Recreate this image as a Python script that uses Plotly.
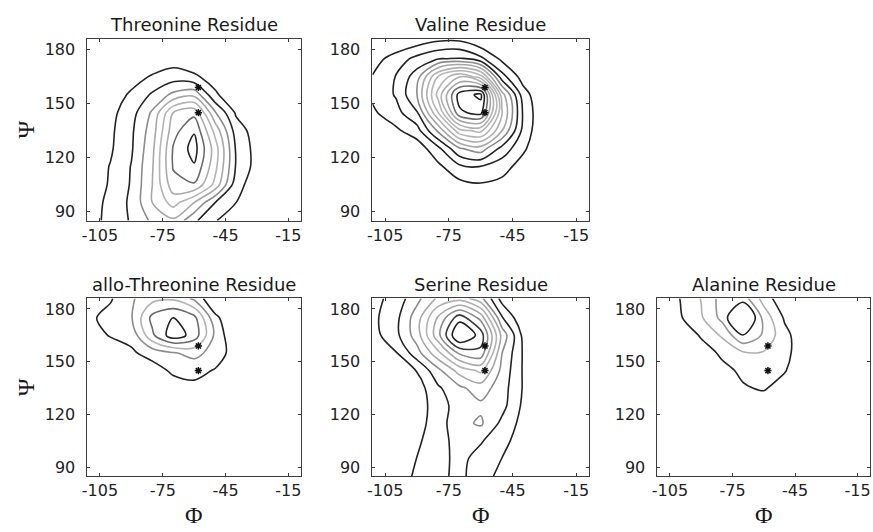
import plotly.graph_objects as go

# Grid of backbone dihedral angles (degrees)
phi_grid = [-111, -100, -90, -80, -70, -60, -50, -40, -30, -20, -9]
psi_grid = [85, 95, 105, 115, 125, 135, 145, 155, 165, 175, 186]

# Population density expressed in contour-level units, one row per psi value
threonine_z = [
    [0.4, 1.4, 2.1, 3.2, 3.8, 2.2, 1.05, 0.5, 0.1, 0, 0],
    [0.4, 1.3, 2.2, 4.0, 5.4, 4.0, 2.0, 1.0, 0.3, 0, 0],
    [0.4, 1.1, 2.1, 4.0, 6.6, 6.9, 4.7, 1.4, 0.4, 0.1, 0],
    [0.35, 1.05, 2.05, 3.9, 7.1, 7.9, 5.3, 1.9, 0.6, 0.2, 0],
    [0.3, 0.87, 1.88, 3.75, 7.1, 8.4, 5.5, 1.87, 0.6, 0.2, 0],
    [0.2, 0.8, 1.82, 3.5, 6.6, 7.9, 4.67, 1.53, 0.5, 0.1, 0],
    [0.1, 0.7, 1.6, 3.15, 6.0, 6.7, 3.1, 0.85, 0.3, 0, 0],
    [0.1, 0.5, 1.15, 2.15, 3.25, 3.7, 1.15, 0.3, 0, 0, 0],
    [0, 0.3, 0.6, 1.1, 1.5, 1.15, 0.6, 0.2, 0, 0, 0],
    [0, 0, 0.1, 0.3, 0.5, 0.35, 0.1, 0, 0, 0, 0],
    [0, 0, 0, 0, 0, 0, 0, 0, 0, 0, 0],
]

valine_z = [
    [0, 0, 0, 0, 0, 0, 0, 0, 0, 0, 0],
    [0, 0, 0, 0, 0, 0, 0, 0, 0, 0, 0],
    [0, 0, 0, 0, 0.69, 0.9, 0.7, 0, 0, 0, 0],
    [0, 0, 0, 0.77, 1.79, 2.02, 1.42, 0.55, 0, 0, 0],
    [0, 0, 0.4, 1.74, 3.88, 4.53, 2.65, 1.19, 0, 0, 0],
    [0, 0.8, 1.58, 4.19, 7.68, 8.26, 5.04, 1.7, 0, 0, 0],
    [0.82, 1.62, 2.91, 7.0, 11.8, 12.35, 6.12, 1.86, 0, 0, 0],
    [1.19, 2.09, 4.0, 8.4, 12.45, 13.25, 5.47, 1.47, 0, 0, 0],
    [1.05, 2.04, 3.53, 7.09, 8.93, 7.46, 2.4, 0.53, 0, 0, 0],
    [0.56, 1.43, 2.31, 2.94, 3.11, 2.25, 0.74, 0, 0, 0, 0],
    [0, 0, 0.32, 0.74, 0.75, 0, 0, 0, 0, 0, 0],
]

allo_threonine_z = [
    [0, 0, 0, 0, 0, 0, 0, 0, 0, 0, 0],
    [0, 0, 0, 0, 0, 0, 0, 0, 0, 0, 0],
    [0, 0, 0, 0, 0, 0, 0, 0, 0, 0, 0],
    [0, 0, 0, 0, 0, 0, 0, 0, 0, 0, 0],
    [0, 0, 0, 0, 0, 0, 0, 0, 0, 0, 0],
    [0, 0, 0, 0, 0.54, 0.7, 0.15, 0, 0, 0, 0],
    [0, 0, 0, 0.55, 1.18, 1.36, 0.92, 0.2, 0, 0, 0],
    [0, 0.35, 0.85, 1.39, 1.91, 2.31, 1.61, 0.45, 0, 0, 0],
    [0.5, 1.07, 1.3, 3.8, 5.6, 4.6, 1.78, 0, 0, 0, 0],
    [0.77, 1.34, 1.92, 4.3, 5.05, 4.3, 1.26, 0, 0, 0, 0],
    [0.31, 0.89, 1.87, 2.66, 2.83, 1.78, 0, 0, 0, 0, 0],
]

serine_z = [
    [0, 0.55, 1.15, 1.75, 2.25, 1.45, 0.7, 0.1, 0, 0, 0],
    [0, 0.35, 1.02, 1.65, 2.3, 1.6, 0.99, 0.3, 0, 0, 0],
    [0, 0, 0.83, 1.59, 2.4, 2.1, 1.32, 0.5, 0, 0, 0],
    [0, 0, 0.6, 1.52, 2.7, 3.15, 1.75, 0.65, 0, 0, 0],
    [0, 0, 0.5, 1.5, 2.5, 2.8, 2.35, 0.8, 0, 0, 0],
    [0, 0, 0.48, 1.85, 2.78, 3.5, 2.47, 0.92, 0, 0, 0],
    [0, 0, 1.06, 2.73, 4.4, 5.2, 2.72, 0.9, 0, 0, 0],
    [0, 0.92, 2.59, 4.75, 7.2, 7.7, 3.02, 0.9, 0, 0, 0],
    [0.6, 1.71, 3.5, 6.7, 10.2, 8.6, 3.7, 0.74, 0, 0, 0],
    [0.74, 1.7, 3.55, 6.15, 8.6, 6.67, 2.1, 0.17, 0, 0, 0],
    [0.63, 1.41, 2.7, 4.2, 4.6, 3.3, 0.6, 0, 0, 0, 0],
]

alanine_z = [
    [0, 0, 0, 0, 0, 0, 0, 0, 0, 0, 0],
    [0, 0, 0, 0, 0, 0, 0, 0, 0, 0, 0],
    [0, 0, 0, 0, 0, 0, 0, 0, 0, 0, 0],
    [0, 0, 0, 0, 0, 0, 0, 0, 0, 0, 0],
    [0, 0, 0, 0, 0.2, 0.4, 0.1, 0, 0, 0, 0],
    [0, 0, 0, 0.2, 0.9, 1.1, 0.55, 0, 0, 0, 0],
    [0, 0, 0.1, 0.7, 1.2, 1.4, 1.07, 0.2, 0, 0, 0],
    [0, 0, 0.45, 1.2, 1.85, 1.9, 1.3, 0.35, 0, 0, 0],
    [0, 0.13, 1.13, 2.14, 3.95, 2.85, 1.3, 0.3, 0, 0, 0],
    [0, 0.9, 1.88, 3.3, 6.0, 2.64, 0.87, 0, 0, 0, 0],
    [0, 1.03, 2.05, 3.4, 3.5, 1.58, 0.2, 0, 0, 0, 0],
]

titles = ["Threonine Residue", "Valine Residue", "allo-Threonine Residue",
          "Serine Residue", "Alanine Residue"]

# Reference conformations marked in every panel
star_phi = [-58, -58]
star_psi = [159, 145]

phi_ticks = [-105, -75, -45, -15]
psi_ticks = [90, 120, 150, 180]

K = "#222222"
# Line colour of each contour level, from the outermost level inwards
level_colors = [
    [K, K, "#8c8c8c", "#a8a8a8", "#b4b4b4", "#ababab", "#6a6a6a", K],
    [K, K, K, "#8a8a8a", "#a6a6a6", "#b0b0b0", "#b4b4b4", "#b4b4b4", "#b0b0b0",
     "#a6a6a6", "#6e6e6e", K, K],
    [K, "#8a8a8a", "#b4b4b4", "#6a6a6a", K],
    [K, K, "#8c8c8c", "#a8a8a8", "#b2b2b2", "#a8a8a8", "#8a8a8a", "#3a3a3a", K],
    [K, "#b0b0b0", "#949494", K],
]

fields = [threonine_z, valine_z, allo_threonine_z, serine_z, alanine_z]

W, H = 873, 532
# Plot boxes in pixels: left, right, top, bottom
boxes = [(82, 297, 39, 221), (369, 587, 39, 221),
         (82, 297, 299, 477), (369, 587, 299, 477), (656, 870, 299, 477)]

fig = go.Figure()
layout_axes = {}
annotations = []

axis_line = "#3c3c3c"
tick_font = dict(family="DejaVu Sans", size=16, color="#222222")

for i, (z, cols, box, title) in enumerate(zip(fields, level_colors, boxes, titles)):
    n = len(cols)
    scale = [[k / (n - 1), c] for k, c in enumerate(cols)]
    xa = "x" if i == 0 else f"x{i + 1}"
    ya = "y" if i == 0 else f"y{i + 1}"
    fig.add_trace(go.Contour(
        x=phi_grid, y=psi_grid, z=z,
        xaxis=xa, yaxis=ya,
        autocontour=False,
        contours=dict(start=1, end=n, size=1, coloring="lines"),
        colorscale=scale, zmin=1, zmax=n, zauto=False,
        line=dict(width=1.6, smoothing=0.9),
        showscale=False, hoverinfo="skip",
    ))
    fig.add_trace(go.Scatter(
        x=star_phi, y=star_psi, xaxis=xa, yaxis=ya, mode="markers",
        marker=dict(symbol="asterisk-open", size=6, color="#111111",
                    line=dict(width=1.5, color="#111111")),
        showlegend=False, hoverinfo="skip",
    ))
    l, r, t, b = box
    xkey = "xaxis" if i == 0 else f"xaxis{i + 1}"
    ykey = "yaxis" if i == 0 else f"yaxis{i + 1}"
    layout_axes[xkey] = dict(
        domain=[l / W, r / W], anchor=ya, range=[-111, -9],
        tickvals=phi_ticks, ticktext=[str(v) for v in phi_ticks],
        showline=True, mirror="ticks", linecolor=axis_line, linewidth=1,
        ticks="inside", ticklen=3, tickcolor=axis_line, tickwidth=1,
        showgrid=False, zeroline=False, tickfont=tick_font,
    )
    layout_axes[ykey] = dict(
        domain=[1 - b / H, 1 - t / H], anchor=xa, range=[85, 186],
        tickvals=psi_ticks, ticktext=[str(v) for v in psi_ticks],
        showline=True, mirror="ticks", linecolor=axis_line, linewidth=1,
        ticks="inside", ticklen=3, tickcolor=axis_line, tickwidth=1,
        showgrid=False, zeroline=False, tickfont=tick_font,
        ticklabelstandoff=8,
    )
    annotations.append(dict(
        text=title, x=(l + r) / 2 / W, y=1 - (t - 14) / H,
        xref="paper", yref="paper", xanchor="center", yanchor="middle",
        showarrow=False, font=dict(family="DejaVu Sans", size=18, color="#1a1a1a"),
    ))

# Axis symbols
for yc in (130, 388):
    annotations.append(dict(
        text="Ψ", x=20 / W, y=1 - yc / H, xref="paper", yref="paper",
        xanchor="center", yanchor="middle", textangle=-90, showarrow=False,
        font=dict(family="Liberation Serif", size=24, color="#1a1a1a"),
    ))
for (l, r, t, b) in boxes[2:]:
    annotations.append(dict(
        text="Φ", x=(l + r) / 2 / W, y=1 - 516 / H, xref="paper", yref="paper",
        xanchor="center", yanchor="middle", showarrow=False,
        font=dict(family="Liberation Serif", size=24, color="#1a1a1a"),
    ))

fig.update_layout(
    width=W, height=H, margin=dict(l=0, r=0, t=0, b=0),
    paper_bgcolor="white", plot_bgcolor="white",
    showlegend=False, hovermode=False,
    annotations=annotations, **layout_axes,
)

fig.write_html("out.html")
